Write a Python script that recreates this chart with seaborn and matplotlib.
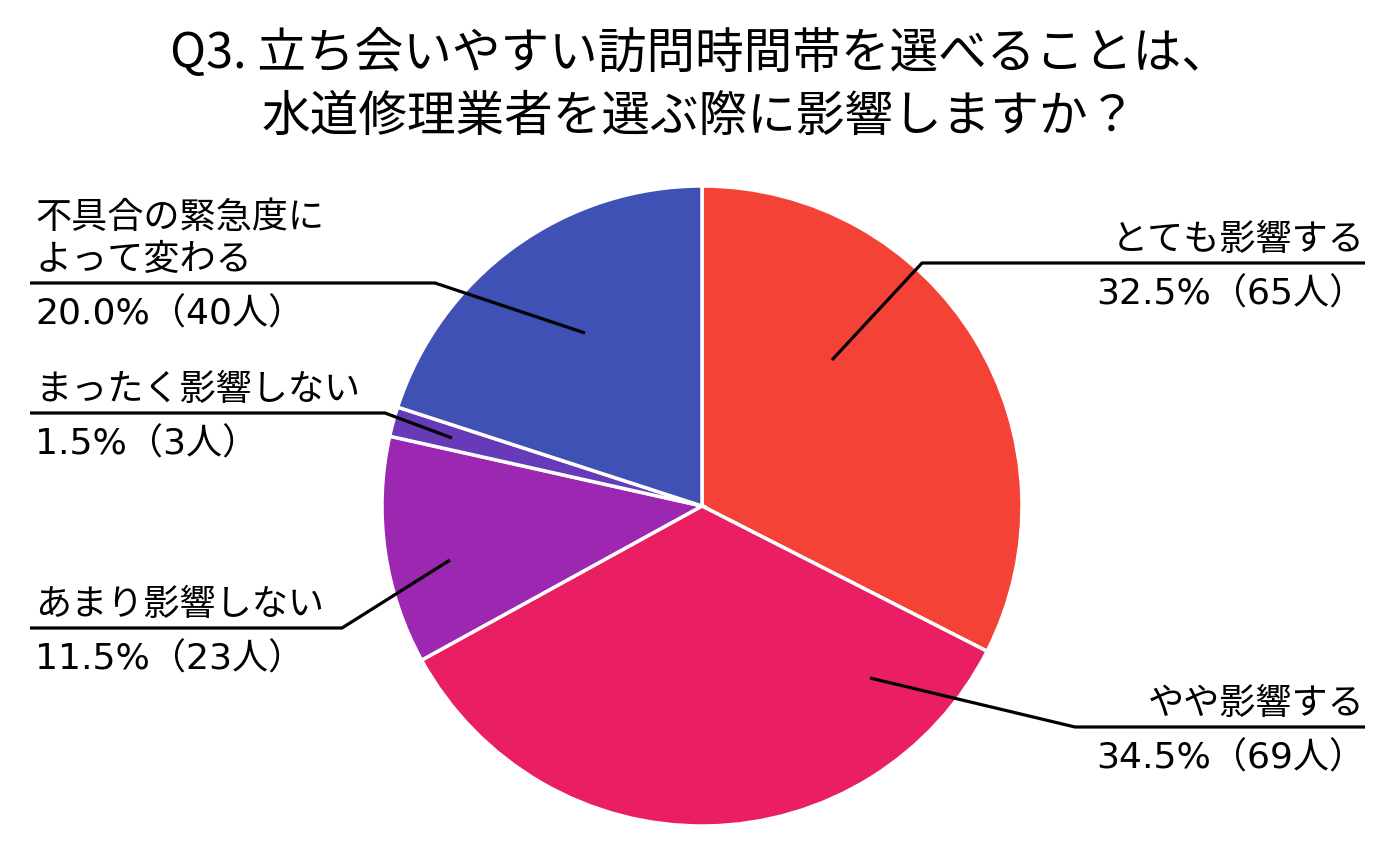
import matplotlib
matplotlib.use("Agg")
import matplotlib.pyplot as plt
import seaborn as sns

sns.set_theme(style="white")
plt.rcParams['font.family'] = ['Noto Sans CJK JP', 'DejaVu Sans']

# ---- data ----
categories = ["とても影響する", "やや影響する", "あまり影響しない", "まったく影響しない", "不具合の緊急度に\nよって変わる"]
percents = [32.5, 34.5, 11.5, 1.5, 20.0]
counts = [65, 69, 23, 3, 40]
colors = ["#F44336", "#E91E63", "#9C27B0", "#673AB7", "#3F51B5"]
title = "Q3. 立ち会いやすい訪問時間帯を選べることは、\n水道修理業者を選ぶ際に影響しますか？"

# ---- layout (pixel coords, y from top) ----
W, H = 1399, 859
center = (702, 506)
radius = 320
# (text x, align, line y, line x_end(near pie), anchor x, anchor y)
label_layout = [
    (1365, "right", 263, 922, 832, 360),
    (1365, "right", 727, 1075, 870, 678),
    (35, "left", 628, 342, 450, 560),
    (35, "left", 413, 385, 452, 438),
    (35, "left", 283, 435, 585, 333),
]

fig = plt.figure(figsize=(W / 100, H / 100), dpi=100)
ax = fig.add_axes([0, 0, 1, 1])
ax.pie(percents, colors=colors, startangle=90, counterclock=False,
       center=(center[0], H - center[1]), radius=radius,
       wedgeprops=dict(edgecolor="white", linewidth=2.5))
ax.set_xlim(0, W)
ax.set_ylim(0, H)
ax.set_aspect("auto")
ax.axis("off")

fs = 26
for cat, p, c, (tx, ha, ly, lx, axx, ayy) in zip(categories, percents, counts, label_layout):
    y = H - ly
    x0 = tx if ha == "right" else tx - 5
    ax.plot([x0, lx, axx], [y, y, H - ayy], color="black", lw=2.3, solid_capstyle="butt")
    ax.text(tx, y + 5, cat, ha=ha, va="bottom", fontsize=fs, linespacing=1.22, color="black")
    ax.text(tx, y - 14, f"{p:.1f}%（{c}人）", ha=ha, va="top", fontsize=fs, color="black",
            family=['DejaVu Sans', 'Noto Sans CJK JP'])

fig.text(0.5, 1 - 30 / H, title, ha="center", va="top", fontsize=35, linespacing=1.33, color="black")

fig.savefig("out.png", dpi=100, facecolor="white")
